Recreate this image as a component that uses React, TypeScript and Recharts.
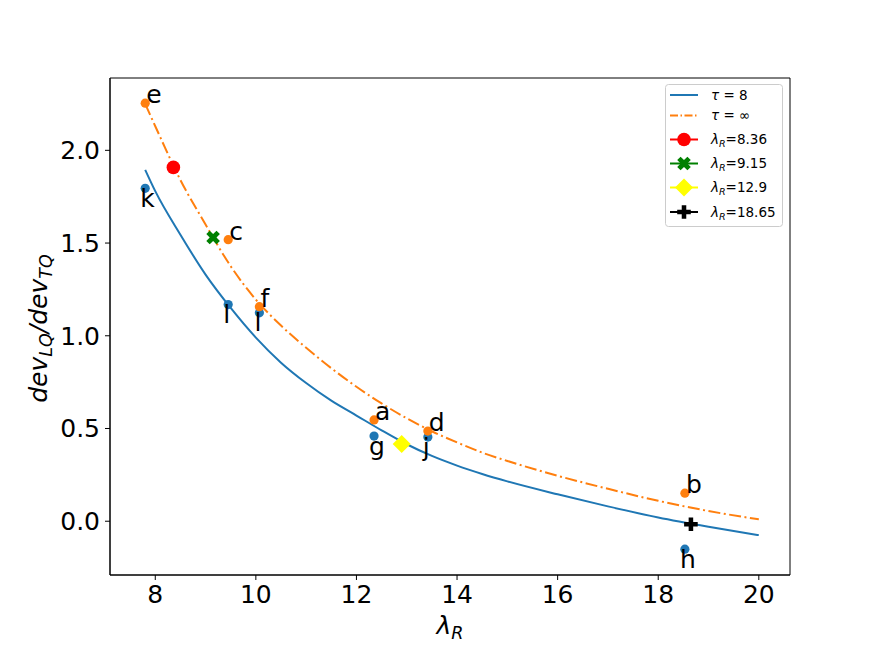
import {
  ComposedChart,
  Line,
  Scatter,
  XAxis,
  YAxis,
  ReferenceArea,
  Legend,
  Label,
} from 'recharts'

const FONT = '"DejaVu Sans", sans-serif'
const BLUE = '#1f77b4'
const ORANGE = '#ff7f0e'

// measured points (lambda_R on x)
const LAMBDA = [7.8, 9.45, 10.07, 12.35, 13.42, 18.53]
const DEV_TAU_INF = [2.254, 1.518, 1.157, 0.546, 0.486, 0.151]
const LABELS_TAU_INF = ['e', 'c', 'f', 'a', 'd', 'b']
const DEV_TAU_8 = [1.795, 1.168, 1.124, 0.459, 0.454, -0.151]
const LABELS_TAU_8 = ['k', 'l', 'l', 'g', 'j', 'h']

// fitted curves
const CURVE_X = [7.8, 8, 8.5, 9, 9.5, 10, 10.5, 11, 11.5, 12, 12.5, 13, 13.5, 14, 14.5, 15, 16, 17, 18, 19, 20]
const CURVE_TAU_8 = [1.895, 1.78, 1.545, 1.33, 1.15, 0.99, 0.855, 0.745, 0.65, 0.57, 0.49, 0.415, 0.352, 0.3, 0.255, 0.215, 0.145, 0.08, 0.02, -0.03, -0.075]
const CURVE_TAU_INF = [2.25, 2.13, 1.84, 1.6, 1.375, 1.195, 1.055, 0.935, 0.825, 0.725, 0.635, 0.555, 0.485, 0.425, 0.37, 0.325, 0.245, 0.175, 0.11, 0.055, 0.01]

// highlighted lambda_R values
const SPECIAL_LAMBDA = [8.36, 9.15, 12.9, 18.65]
const SPECIAL_DEV = [1.908, 1.53, 0.416, -0.016]
const SPECIAL_LABELS = ['8.36', '9.15', '12.9', '18.65']
const SPECIAL_KINDS = ['circle', 'x', 'diamond', 'plus']
const SPECIAL_COLORS = ['#ff0000', '#008000', '#ffff00', '#000000']

const X_TICKS = [8, 10, 12, 14, 16, 18, 20]
const Y_TICKS = [0, 0.5, 1, 1.5, 2]
const X_DOMAIN = [7.1, 20.62]
const Y_DOMAIN = [-0.29, 2.39]

const tau8Curve = CURVE_X.map((x, i) => ({ x, y: CURVE_TAU_8[i] }))
const tauInfCurve = CURVE_X.map((x, i) => ({ x, y: CURVE_TAU_INF[i] }))
const tauInfPts = LAMBDA.map((x, i) => ({ x, y: DEV_TAU_INF[i], label: LABELS_TAU_INF[i] }))
const tau8Pts = LAMBDA.map((x, i) => ({ x, y: DEV_TAU_8[i], label: LABELS_TAU_8[i] }))
const specials = SPECIAL_LAMBDA.map((x, i) => ({
  x,
  y: SPECIAL_DEV[i],
  kind: SPECIAL_KINDS[i],
  color: SPECIAL_COLORS[i],
  label: SPECIAL_LABELS[i],
}))

const X_PATH = [[-1, -2], [0, -1], [1, -2], [2, -1], [1, 0], [2, 1], [1, 2], [0, 1], [-1, 2], [-2, 1], [-1, 0], [-2, -1]]
const PLUS_PATH = [[-1, -3], [1, -3], [1, -1], [3, -1], [3, 1], [1, 1], [1, 3], [-1, 3], [-1, 1], [-3, 1], [-3, -1], [-1, -1]]

function Marker({ kind, cx, cy, color }: { kind: string; cx: number; cy: number; color: string }) {
  if (kind === 'circle') return <circle cx={cx} cy={cy} r={6.8} fill={color} />
  if (kind === 'diamond') {
    const h = 9
    return <polygon points={`${cx},${cy - h} ${cx + h},${cy} ${cx},${cy + h} ${cx - h},${cy}`} fill={color} />
  }
  const path = kind === 'x' ? X_PATH : PLUS_PATH
  const k = kind === 'x' ? 6.8 / 2 : 6.8 / 3
  const pts = path.map(([a, b]) => `${cx + a * k},${cy + b * k}`).join(' ')
  return <polygon points={pts} fill={color} />
}

const LEGEND_ROWS = [11, 31.5, 55.5, 79.5, 103.5, 128]

function LegendBox() {
  const items = [
    { line: BLUE, dash: undefined, sym: 'τ', sub: '', rest: ' = 8', kind: '' },
    { line: ORANGE, dash: '8 2.5 1.5 2.5', sym: 'τ', sub: '', rest: ' = ∞', kind: '' },
    ...specials.map((s) => ({ line: s.color, dash: undefined, sym: 'λ', sub: 'R', rest: '=' + s.label, kind: s.kind })),
  ]
  return (
    <svg width={120} height={144} style={{ display: 'block' }}>
      <rect x={0.5} y={0.5} width={117} height={142} rx={3} fill="#fff" fillOpacity={0.8} stroke="#cccccc" />
      {items.map((it, i) => {
        const cy = LEGEND_ROWS[i]
        return (
          <g key={i}>
            <line x1={5} x2={33} y1={cy} y2={cy} stroke={it.line} strokeWidth={2} strokeDasharray={it.dash} />
            {it.kind && <Marker kind={it.kind} cx={19} cy={cy} color={it.line} />}
            <text x={46} y={cy + 4.8} fontSize={13.5} fontFamily={FONT} fill="#000">
              <tspan fontStyle="italic">{it.sym}</tspan>
              {it.sub && (
                <tspan fontStyle="italic" fontSize={9.5} dy={3}>
                  {it.sub}
                </tspan>
              )}
              <tspan dy={it.sub ? -3 : 0}>{it.rest}</tspan>
            </text>
          </g>
        )
      })}
    </svg>
  )
}

export default function App() {
  const tickStyle = { fontSize: 25, fill: '#000', fontFamily: FONT }
  return (
    <div style={{ position: 'absolute', left: 0, top: 0, background: '#fff' }}>
      <ComposedChart width={877} height={646} margin={{ top: 78, right: 87, bottom: 0, left: 50 }}>
        <XAxis
          dataKey="x"
          type="number"
          domain={X_DOMAIN}
          ticks={X_TICKS}
          allowDataOverflow
          height={71}
          tick={tickStyle}
          tickSize={5}
          tickMargin={5}
          stroke="#000"
          tickLine={{ stroke: '#000' }}
          axisLine={{ stroke: '#000' }}
        >
          <Label
            content={(p: any) => {
              const vb = p.viewBox || { x: 110, y: 575, width: 680 }
              const cx = vb.x + vb.width / 2
              return (
                <text x={cx} y={634} textAnchor="middle" fontSize={25} fontFamily={FONT} fill="#000">
                  <tspan fontStyle="italic">λ</tspan>
                  <tspan fontStyle="italic" fontSize={17.5} dy={5}>
                    R
                  </tspan>
                </text>
              )
            }}
          />
        </XAxis>
        <YAxis
          type="number"
          domain={Y_DOMAIN}
          ticks={Y_TICKS}
          allowDataOverflow
          width={60}
          tick={tickStyle}
          tickSize={5}
          tickMargin={5}
          tickFormatter={(v: number) => v.toFixed(1)}
          stroke="#000"
          tickLine={{ stroke: '#000' }}
          axisLine={{ stroke: '#000' }}
        >
          <Label
            content={(p: any) => {
              const vb = p.viewBox || { x: 50, y: 78, height: 497 }
              const cy = vb.y + vb.height / 2 + 2
              const x = 47
              return (
                <text
                  x={x}
                  y={cy}
                  transform={`rotate(-90 ${x} ${cy})`}
                  textAnchor="middle"
                  fontSize={25}
                  fontStyle="italic"
                  fontFamily={FONT}
                  fill="#000"
                >
                  dev
                  <tspan fontSize={17.5} dy={5}>LQ</tspan>
                  <tspan dy={-5}>/dev</tspan>
                  <tspan fontSize={17.5} dy={5}>TQ</tspan>
                </text>
              )
            }}
          />
        </YAxis>

        <ReferenceArea
          x1={X_DOMAIN[0]}
          x2={X_DOMAIN[1]}
          y1={Y_DOMAIN[0]}
          y2={Y_DOMAIN[1]}
          fill="none"
          fillOpacity={0}
          stroke="#000"
          strokeWidth={1}
          ifOverflow="visible"
        />

        <Scatter
          data={tau8Pts}
          dataKey="y"
          fill={BLUE}
          isAnimationActive={false}
          shape={(p: any) => <circle cx={p.cx} cy={p.cy} r={4.6} fill={BLUE} />}
        />
        <Scatter
          data={tauInfPts}
          dataKey="y"
          fill={ORANGE}
          isAnimationActive={false}
          shape={(p: any) => <circle cx={p.cx} cy={p.cy} r={4.6} fill={ORANGE} />}
        />

        <Line
          data={tau8Curve}
          dataKey="y"
          type="monotone"
          stroke={BLUE}
          strokeWidth={2}
          dot={false}
          activeDot={false}
          isAnimationActive={false}
        />
        <Line
          data={tauInfCurve}
          dataKey="y"
          type="monotone"
          stroke={ORANGE}
          strokeWidth={2}
          strokeDasharray="12 3.5 2 3.5"
          dot={false}
          activeDot={false}
          isAnimationActive={false}
        />

        <Scatter
          data={specials}
          dataKey="y"
          isAnimationActive={false}
          shape={(p: any) => <Marker kind={p.payload.kind} cx={p.cx} cy={p.cy} color={p.payload.color} />}
        />

        <Scatter
          data={tauInfPts}
          dataKey="y"
          isAnimationActive={false}
          shape={(p: any) => (
            <text x={p.cx + 1} y={p.cy} fontSize={25} fontFamily={FONT} fill="#000">
              {p.payload.label}
            </text>
          )}
        />
        <Scatter
          data={tau8Pts}
          dataKey="y"
          isAnimationActive={false}
          shape={(p: any) => (
            <text x={p.cx - 5} y={p.cy + 18.5} fontSize={25} fontFamily={FONT} fill="#000">
              {p.payload.label}
            </text>
          )}
        />

        <Legend
          layout="vertical"
          align="center"
          verticalAlign="middle"
          content={() => <LegendBox />}
          wrapperStyle={{ position: 'absolute', left: 665, top: 84, width: 120, height: 144 }}
        />
      </ComposedChart>
    </div>
  )
}
